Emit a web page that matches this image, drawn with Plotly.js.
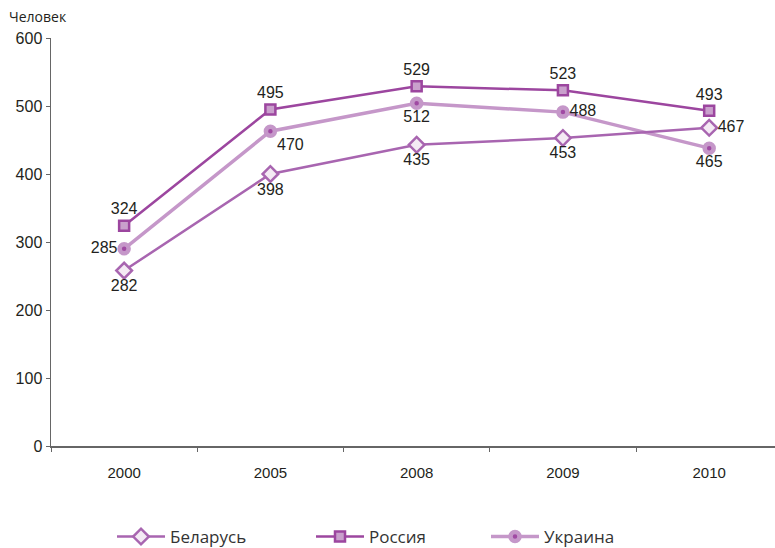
<!DOCTYPE html>
<html>
<head>
<meta charset="utf-8">
<script src="https://cdn.plot.ly/plotly-3.0.1.min.js"></script>
<style>html,body{margin:0;padding:0;background:#fff}#chart{width:775px;height:548px}</style>
</head>
<body>
<div id="chart"></div>
<script>
const years = ['2000', '2005', '2008', '2009', '2010'];
const belarusValues = [258, 400, 443, 453, 468];
const belarusLabels = ['282', '398', '435', '453', '467'];
const russiaValues = [324, 495, 529, 523, 493];
const russiaLabels = ['324', '495', '529', '523', '493'];
const ukraineValues = [290, 463, 504, 491, 438];
const ukraineLabels = ['285', '470', '512', '488', '465'];
const yTicks = [0, 100, 200, 300, 400, 500, 600];

const labelFont = {family: 'Liberation Sans, Arial, sans-serif', size: 16, color: '#231f20'};

const traces = [
  {
    name: 'Россия', x: years, y: russiaValues, text: russiaLabels,
    type: 'scatter', mode: 'lines+markers+text', legend: 'legend2',
    textposition: ['top center', 'top center', 'top center', 'top center', 'top center'],
    textfont: labelFont, cliponaxis: false,
    line: {color: '#9c469f', width: 2.5},
    marker: {symbol: 'square', size: 10, color: '#c9a0cc', line: {color: '#9c469f', width: 2.5}},
    hoverinfo: 'skip'
  },
  {
    name: 'Украина', x: years, y: ukraineValues, text: ukraineLabels,
    type: 'scatter', mode: 'lines+markers+text', legend: 'legend3',
    textposition: ['middle left', 'bottom right', 'bottom center', 'middle right', 'bottom center'],
    textfont: labelFont, cliponaxis: false,
    line: {color: '#c597c9', width: 3.5},
    marker: {symbol: 'circle', size: 9, color: '#a04aa3', line: {color: '#c597c9', width: 4.5}},
    hoverinfo: 'skip'
  },
  {
    name: 'Беларусь', x: years, y: belarusValues, text: belarusLabels,
    type: 'scatter', mode: 'lines+markers+text', legend: 'legend',
    textposition: ['bottom center', 'bottom center', 'bottom center', 'bottom center', 'middle right'],
    textfont: labelFont, cliponaxis: false,
    line: {color: '#a865b0', width: 2.5},
    marker: {symbol: 'diamond', size: 12, color: '#f4eaf4', line: {color: '#a865b0', width: 2.5}},
    hoverinfo: 'skip'
  }
];

const legendFont = {family: 'Open Sans, Noto Sans, sans-serif', size: 17, color: '#333333'};
function legendAt(xPaper) {
  return {orientation: 'h', x: xPaper, xanchor: 'left', y: -0.223, yanchor: 'middle', itemwidth: 48,
          font: legendFont, bgcolor: 'rgba(0,0,0,0)', borderwidth: 0, itemclick: false, itemdoubleclick: false};
}

const layout = {
  width: 775, height: 548,
  margin: {l: 51, r: 0, t: 38, b: 102, autoexpand: false},
  paper_bgcolor: '#ffffff', plot_bgcolor: '#ffffff',
  showlegend: true,
  legend: legendAt((112 - 51) / 724),
  legend2: legendAt((311 - 51) / 724),
  legend3: legendAt((486 - 51) / 724),
  xaxis: {
    type: 'category', range: [-0.5, 4.45], fixedrange: true,
    tickson: 'boundaries', ticks: 'outside', ticklen: 4, tickcolor: '#666', tickwidth: 1,
    showline: true, linecolor: '#666', linewidth: 1.5,
    showgrid: false, zeroline: false,
    tickfont: {family: 'Liberation Sans, Arial, sans-serif', size: 15, color: '#231f20'},
    ticklabelstandoff: 12
  },
  yaxis: {
    range: [0, 600], tickvals: yTicks, fixedrange: true,
    ticks: 'outside', ticklen: 4, tickcolor: '#666', tickwidth: 1,
    showline: true, linecolor: '#666', linewidth: 1.5,
    showgrid: false, zeroline: false,
    tickfont: {family: 'Liberation Sans, Arial, sans-serif', size: 16, color: '#231f20'}
  },
  annotations: [{
    text: 'Человек', xref: 'paper', yref: 'paper', x: (7 - 51) / 724, y: (446 - 17) / 408,
    xanchor: 'left', yanchor: 'middle', showarrow: false,
    font: {family: 'Open Sans, Noto Sans, sans-serif', size: 14, color: '#231f20'}
  }]
};

Plotly.newPlot('chart', traces, layout, {displayModeBar: false, staticPlot: true});
</script>
</body>
</html>
